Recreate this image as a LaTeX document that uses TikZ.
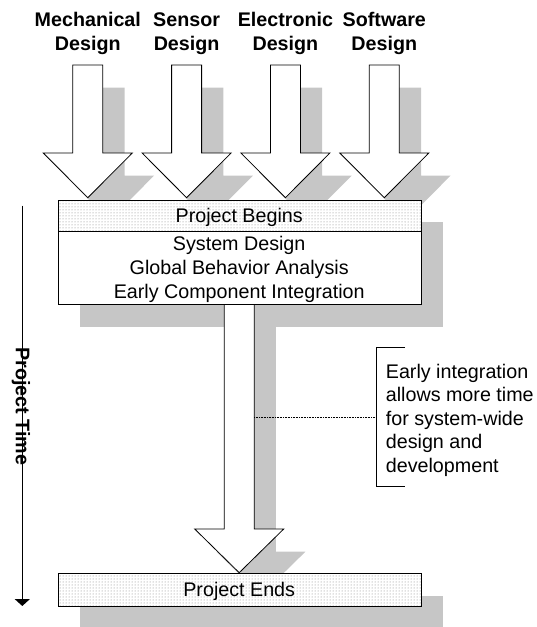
\documentclass[tikz,border=0pt]{standalone}
\usepackage{fontspec}
\setmainfont{Liberation Sans}
\usetikzlibrary{arrows.meta,patterns,calc}
\definecolor{shadowgray}{RGB}{198,198,198}
\newcommand{\TopStrut}{\rule{0pt}{15pt}}
\tikzset{
  shadowfill/.style={fill=shadowgray, draw=none},
  blockarrow/.style={fill=white, draw=black, line width=0.8pt, line join=miter},
  plainbox/.style={draw=black, line width=0.8pt, fill=white, inner sep=0pt, anchor=north west},
  dotbox/.style={draw=black, line width=0.8pt, preaction={fill=white}, pattern=dots, pattern color=gray, inner sep=0pt, anchor=north west},
  txt/.style={font=\fontsize{19.7}{24}\selectfont, inner sep=0pt},
  titletxt/.style={font=\fontsize{19.7}{24}\selectfont\bfseries, inner sep=0pt, align=center, anchor=north},
  notetxt/.style={font=\fontsize{19.7}{23.4}\selectfont, inner sep=0pt, align=left, anchor=north west},
  timeline/.style={line width=1.6pt, -{Triangle[width=15pt,length=7pt]}},
  bracketline/.style={line width=0.8pt},
  dotline/.style={line width=0.6pt, dash pattern=on 0.8pt off 0.8pt},
}
% style, center x, top y, head y, tip y
\newcommand{\BlockArrowShape}[5]{%
  \path[#1] ({#2-15},#3) -- ({#2+15},#3) -- ({#2+15},#4) -- ({#2+44.5},#4) -- (#2,#5) -- ({#2-44.5},#4) -- ({#2-15},#4) -- cycle;}
\begin{document}
\begin{tikzpicture}[x=1pt,y=-1pt]
\useasboundingbox (0,0) rectangle (537,627);
% box shadows
\fill[shadowfill] (79.7,222.3) rectangle (442.7,327);
\fill[shadowfill] (79.7,595.6) rectangle (442.7,628);
% arrow shadows
\foreach \cx in {87.8,186.6,285.4,384.3}{
  \begin{scope}[shift={(21.7,22.7)}]
    \BlockArrowShape{shadowfill}{\cx}{65}{153}{197.7}
  \end{scope}
}
\begin{scope}[shift={(21.7,22.7)}]
  \BlockArrowShape{shadowfill}{239.2}{304}{529}{572.7}
\end{scope}
% arrows
\foreach \cx in {87.8,186.6,285.4,384.3}{
  \BlockArrowShape{blockarrow}{\cx}{65}{153}{197.7}
}
\BlockArrowShape{blockarrow}{239.2}{304}{529}{572.7}
% boxes
\node[dotbox, minimum width=363pt, minimum height=30.7pt] (begins) at (57.7,200) {};
\node[plainbox, minimum width=363pt, minimum height=73.3pt] (tasks) at (57.7,230.7) {};
\node[dotbox, minimum width=363pt, minimum height=32.7pt] (ends) at (57.7,573.3) {};
% box texts
\node[txt, anchor=base] (beginslbl) at (239.2,222.7) {Project Begins};
\node[txt, anchor=north, align=center] (taskslbl) at (239.2,235.7) {\TopStrut System Design\\Global Behavior Analysis\\Early Component Integration};
\node[txt, anchor=base] (endslbl) at (239.2,596) {Project Ends};
% titles
\node[titletxt] (mech) at (87.8,11) {\TopStrut Mechanical\\Design};
\node[titletxt] (sens) at (186.6,11) {\TopStrut Sensor\\Design};
\node[titletxt] (elec) at (285.4,11) {\TopStrut Electronic\\Design};
\node[titletxt] (soft) at (384.3,11) {\TopStrut Software\\Design};
% project time axis
\coordinate (tstart) at (22.3,205.5);
\coordinate (tend) at (22.3,606);
\draw[timeline] (tstart) -- (tend);
\node[font=\fontsize{19.7}{24}\selectfont\bfseries, rotate=-90, inner sep=0pt] (ptime) at (21,406.5) {Project Time};
% annotation
\coordinate (brtop) at (405,347.3);
\coordinate (brtopl) at (376.7,347.3);
\coordinate (brbotl) at (376.7,486.7);
\coordinate (brbot) at (405,486.7);
\draw[bracketline] (brtop) -- (brtopl) -- (brbotl) -- (brbot);
\coordinate (shaftpt) at (254.1,417.7);
\coordinate (brmid) at (376.7,417.7);
\draw[dotline] (shaftpt) -- (brmid);
\node[notetxt] (note) at (385.7,363.3) {\TopStrut Early integration\\allows more time\\for system-wide\\design and\\development};
\end{tikzpicture}
\end{document}
